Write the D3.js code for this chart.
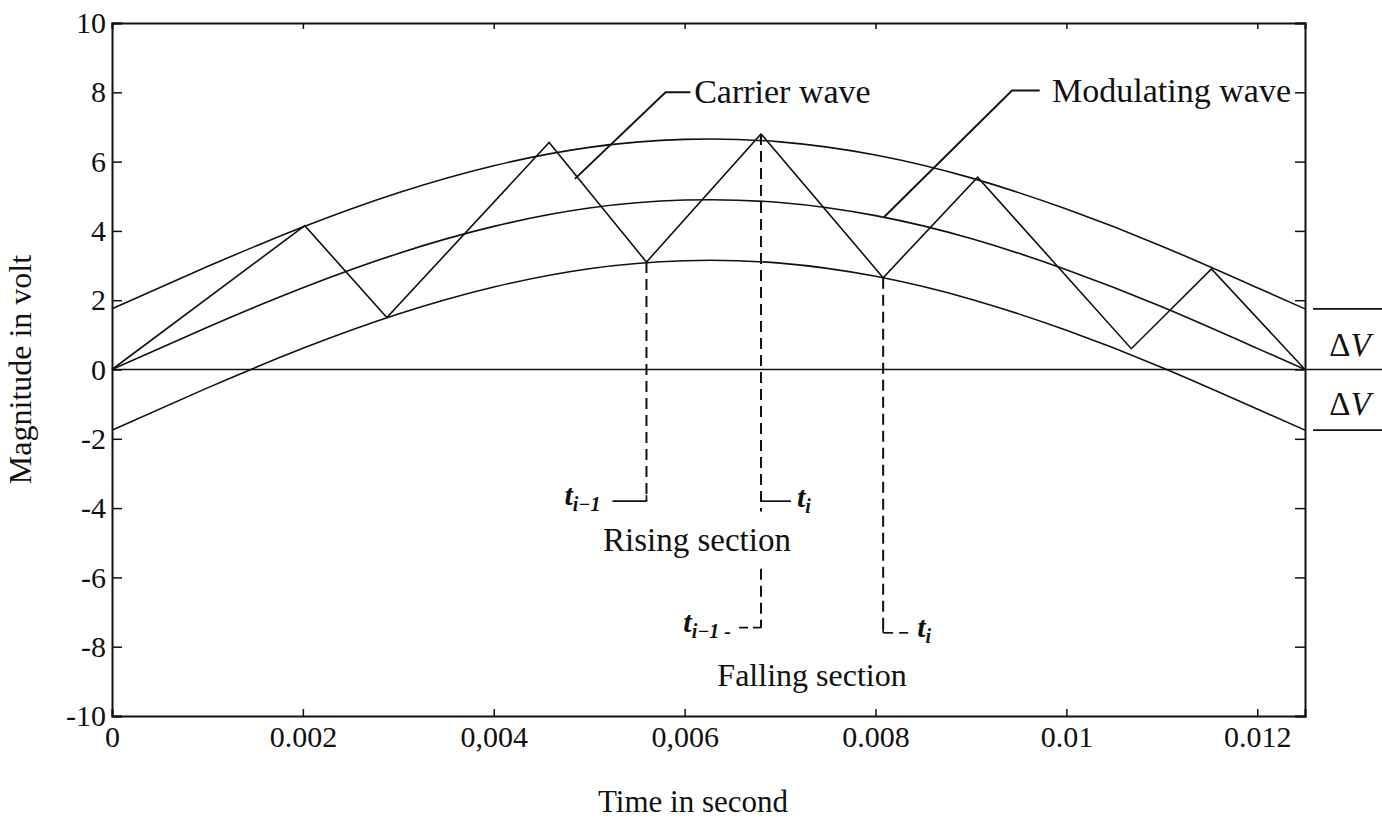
<!DOCTYPE html>
<html>
<head>
<meta charset="utf-8">
<script src="https://cdn.jsdelivr.net/npm/d3@7"></script>
<style>
  html, body { margin: 0; padding: 0; background: #fff; }
  svg { display: block; }
  text { font-family: "Liberation Serif", "DejaVu Serif", serif; fill: #111; }
</style>
</head>
<body>
<svg id="chart" width="1382" height="835"></svg>
<script>
// ---------------- data ----------------
const xTicks = [0, 0.002, 0.004, 0.006, 0.008, 0.01, 0.012];
const xTickLabels = ["0", "0.002", "0,004", "0,006", "0.008", "0.01", "0.012"];
const yTicks = [-10, -8, -6, -4, -2, 0, 2, 4, 6, 8, 10];
const yTickLabels = ["-10", "-8", "-6", "-4", "-2", "0", "2", "4", "6", "8", "10"];

// sample times for the smooth curves (s)
const timePoints = [0, 0.001, 0.002, 0.003, 0.004, 0.005, 0.006, 0.007, 0.008, 0.009, 0.010, 0.011, 0.012, 0.0125];
// modulating wave (V)
const modulating = [0, 1.22, 2.36, 3.35, 4.13, 4.66, 4.89, 4.82, 4.44, 3.78, 2.88, 1.81, 0.61, 0];
// upper band = modulating + ΔV
const upperBand = [1.75, 2.97, 4.11, 5.10, 5.88, 6.41, 6.64, 6.57, 6.19, 5.53, 4.63, 3.56, 2.36, 1.75];
// lower band = modulating − ΔV
const lowerBand = [-1.75, -0.53, 0.61, 1.60, 2.38, 2.91, 3.14, 3.07, 2.69, 2.03, 1.13, 0.06, -1.14, -1.75];

// carrier (triangular) wave vertices
const carrierTime = [0, 0.00202, 0.00288, 0.00458, 0.0056, 0.0068, 0.00808, 0.00907, 0.01068, 0.01152, 0.0125];
const carrierValue = [0, 4.15, 1.50, 6.55, 3.10, 6.80, 2.65, 5.55, 0.60, 2.90, 0];

// ---------------- scales ----------------
const svg = d3.select("#chart");
const x = d3.scaleLinear().domain([0, 0.0125]).range([112, 1305]);
const y = d3.scaleLinear().domain([-10, 10]).range([716, 23]);

const ink = "#111";
const g = svg.append("g");

// smooth curves
const smooth = d3.line().x(d => x(d[0])).y(d => y(d[1])).curve(d3.curveNatural);
[upperBand, modulating, lowerBand].forEach(series => {
  g.append("path")
    .datum(timePoints.map((t, i) => [t, series[i]]))
    .attr("d", smooth)
    .attr("fill", "none").attr("stroke", ink).attr("stroke-width", 1.6);
});

// carrier wave
const straight = d3.line().x(d => x(d[0])).y(d => y(d[1]));
g.append("path")
  .datum(carrierTime.map((t, i) => [t, carrierValue[i]]))
  .attr("d", straight)
  .attr("fill", "none").attr("stroke", ink).attr("stroke-width", 1.6)
  .attr("stroke-linejoin", "miter");

// zero line, extended to the right edge (ΔV annotation)
g.append("line")
  .attr("x1", x(0)).attr("x2", 1382).attr("y1", y(0)).attr("y2", y(0))
  .attr("stroke", ink).attr("stroke-width", 1.6);
// ΔV marker lines
[upperBand[upperBand.length - 1], lowerBand[lowerBand.length - 1]].forEach(v => {
  g.append("line")
    .attr("x1", x(0.0125) + 8).attr("x2", 1382).attr("y1", y(v)).attr("y2", y(v))
    .attr("stroke", ink).attr("stroke-width", 1.6);
});

// ---------------- axes (frame with inward ticks) ----------------
const fontTick = 30;
const axB = d3.axisBottom(x).tickValues(xTicks).tickSize(-7).tickPadding(10)
  .tickFormat((d, i) => xTickLabels[i]);
const axT = d3.axisTop(x).tickValues(xTicks).tickSize(-6).tickFormat("");
const axL = d3.axisLeft(y).tickValues(yTicks).tickSize(-10).tickPadding(6)
  .tickFormat((d, i) => yTickLabels[i]);
const axR = d3.axisRight(y).tickValues(yTicks).tickSize(-10).tickFormat("");

function styleAxis(sel) {
  sel.selectAll("path.domain").attr("stroke", ink).attr("stroke-width", 2);
  sel.selectAll(".tick line").attr("stroke", ink).attr("stroke-width", 1.5);
  sel.selectAll(".tick text")
    .style("font-family", '"Liberation Serif", serif')
    .style("font-size", fontTick + "px").attr("fill", ink);
}
g.append("g").attr("transform", `translate(0,${y(-10)})`).call(axB).call(styleAxis);
g.append("g").attr("transform", `translate(0,${y(10)})`).call(axT).call(styleAxis);
g.append("g").attr("transform", `translate(${x(0)},0)`).call(axL).call(styleAxis);
g.append("g").attr("transform", `translate(${x(0.0125)},0)`).call(axR).call(styleAxis);

// axis titles
svg.append("text")
  .attr("x", 693).attr("y", 812)
  .attr("text-anchor", "middle")
  .style("font-size", "31px")
  .text("Time in second");
svg.append("text")
  .attr("transform", `translate(31,${y(0)}) rotate(-90)`)
  .attr("text-anchor", "middle")
  .style("font-size", "32px")
  .text("Magnitude in volt");

// ---------------- annotations ----------------
const dash = "11,6";
function dashed(x1, y1, x2, y2) {
  g.append("line").attr("x1", x1).attr("y1", y1).attr("x2", x2).attr("y2", y2)
    .attr("stroke", ink).attr("stroke-width", 2).attr("stroke-dasharray", dash);
}
function solid(x1, y1, x2, y2, w) {
  g.append("line").attr("x1", x1).attr("y1", y1).attr("x2", x2).attr("y2", y2)
    .attr("stroke", ink).attr("stroke-width", w || 1.7);
}
function tLabel(px, py, sub, anchor) {
  const t = svg.append("text").attr("x", px).attr("y", py)
    .attr("text-anchor", anchor || "start")
    .style("font-size", "30px").style("font-style", "italic").style("font-weight", "bold");
  t.append("tspan").text("t");
  t.append("tspan").attr("dy", 6).style("font-size", "20px").text(sub);
}

// t_{i-1} rising (left)
const tA = carrierTime[4], tB = carrierTime[5], tC = carrierTime[6];
dashed(x(tA), y(carrierValue[4]), x(tA), y(-3.8));
solid(x(tA) - 34, y(-3.8), x(tA), y(-3.8));
solid(x(tA), y(-3.8) - 6, x(tA), y(-3.8));
tLabel(x(tA) - 46, y(-3.8) + 4, "i−1", "end");

// t_i rising / t_{i-1} falling (middle)
dashed(x(tB), y(carrierValue[5]), x(tB), y(-4.1));
solid(x(tB), y(-3.8), x(tB) + 30, y(-3.8));
tLabel(x(tB) + 36, y(-3.8) + 6, "i", "start");
dashed(x(tB), y(-5.75), x(tB), y(-7.45));
solid(x(tB), y(-7.45) - 6, x(tB), y(-7.45));
g.append("line").attr("x1", x(tB) - 22).attr("x2", x(tB)).attr("y1", y(-7.45)).attr("y2", y(-7.45))
  .attr("stroke", ink).attr("stroke-width", 1.7).attr("stroke-dasharray", "9,5");
tLabel(x(tB) - 30, y(-7.45) + 4, "i−1 -", "end");

// t_i falling (right)
dashed(x(tC), y(carrierValue[6]), x(tC), y(-7.6));
solid(x(tC), y(-7.6) - 6, x(tC), y(-7.6));
solid(x(tC), y(-7.6), x(tC) + 10, y(-7.6));
solid(x(tC) + 16, y(-7.6), x(tC) + 25, y(-7.6));
tLabel(x(tC) + 34, y(-7.6) + 4, "i", "start");

// section labels
svg.append("text").attr("x", 697).attr("y", 551).attr("text-anchor", "middle")
  .style("font-size", "33px").text("Rising section");
svg.append("text").attr("x", 812).attr("y", 686).attr("text-anchor", "middle")
  .style("font-size", "32px").attr("fill", "#333").text("Falling section");

// leader: Carrier wave
const carrierLeader = [[0.00485, 5.50], [0.00580, 8.0], [0.00606, 8.0]];
g.append("path").datum(carrierLeader).attr("d", straight)
  .attr("fill", "none").attr("stroke", ink).attr("stroke-width", 1.9);
svg.append("text").attr("x", x(0.00610)).attr("y", y(8.0) + 11)
  .style("font-size", "34px").text("Carrier wave");

// leader: Modulating wave
const modLeader = [[0.00809, 4.40], [0.00943, 8.05], [0.00972, 8.05]];
g.append("path").datum(modLeader).attr("d", straight)
  .attr("fill", "none").attr("stroke", ink).attr("stroke-width", 1.9);
svg.append("text").attr("x", x(0.00985)).attr("y", y(8.05) + 11)
  .style("font-size", "34px").text("Modulating wave");

// ΔV labels
function dvLabel(py) {
  const t = svg.append("text").attr("x", 1350).attr("y", py).attr("text-anchor", "middle")
    .style("font-size", "33px");
  t.append("tspan").text("Δ");
  t.append("tspan").style("font-style", "italic").text("V");
}
dvLabel(y(0.75) + 12);
dvLabel(y(-0.98) + 12);
</script>
</body>
</html>
